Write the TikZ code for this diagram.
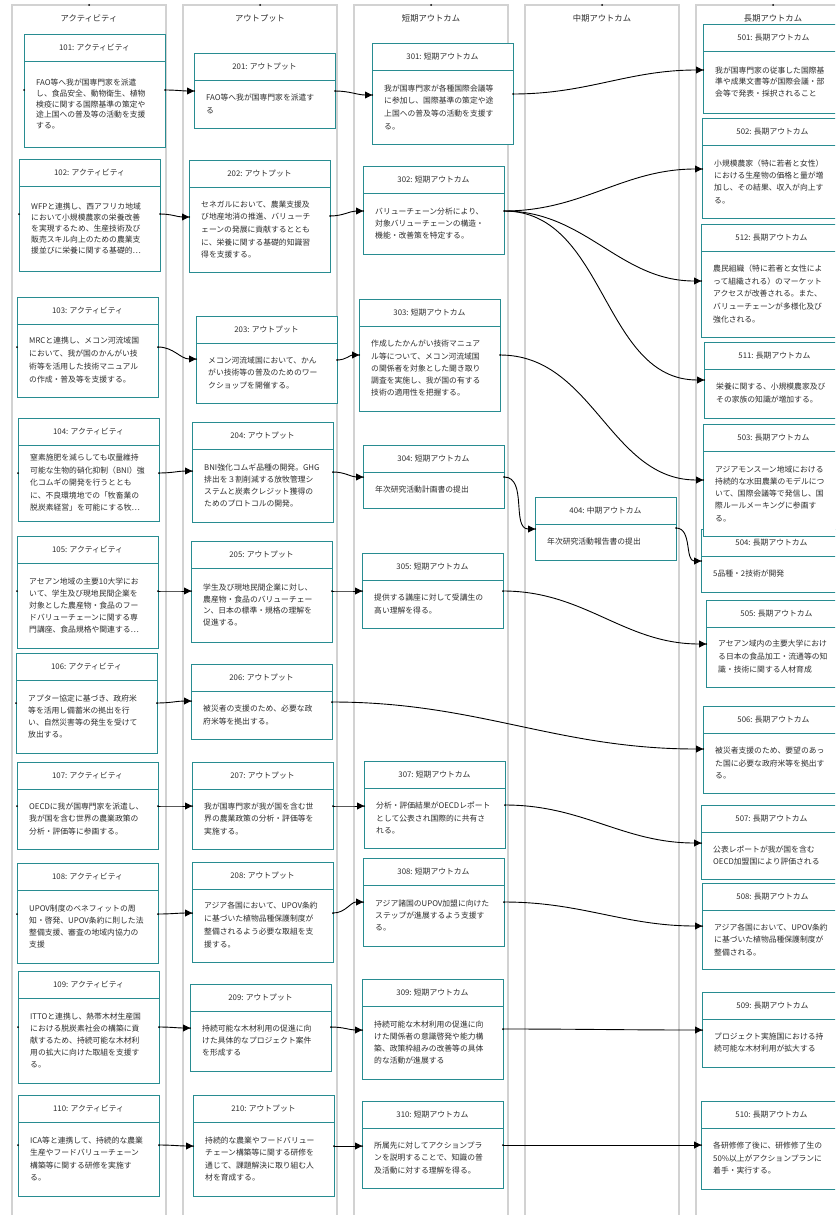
\documentclass[tikz,border=0pt]{standalone}
\usepackage{fontspec}
\setmainfont{Noto Sans CJK JP}
\usetikzlibrary{arrows.meta,calc}
\definecolor{boxc}{RGB}{40,140,145}
\definecolor{lanec}{RGB}{210,210,210}
\definecolor{txt}{RGB}{45,45,45}
\tikzset{
  lanebox/.style={draw=lanec, line width=1.5pt, fill=white, anchor=north west, minimum width=154pt, minimum height=1230pt, inner sep=0pt, outer sep=0pt},
  lanetitle/.style={font=\fontsize{8.3}{10}\selectfont, text=txt, inner sep=0pt},
  boxframe/.style={draw=boxc, line width=0.95pt, fill=white, anchor=north west, minimum width=141pt, inner sep=0pt, outer sep=0pt},
  boxline/.style={draw=boxc, line width=0.95pt},
  headtxt/.style={font=\fontsize{7.8}{9}\selectfont, text=txt, inner sep=0pt},
  bodytxt/.style={anchor=west, align=left, text=txt, inner sep=0pt},
  conn/.style={draw=black, line width=0.9pt, -{Triangle[length=7pt,width=7pt]}},
  portdot/.style={fill=black},
}
% id, left, top, bottom, header, line spacing, body
\newcommand{\lmbox}[7]{%
  \node[boxframe, minimum height={#4pt-#3pt}] (b#1) at (#2,#3) {};
  \draw[boxline] ([yshift=-27pt]b#1.north west) -- ([yshift=-27pt]b#1.north east);
  \node[headtxt] (h#1) at ([yshift=-13.5pt]b#1.north) {#5};
  \node[bodytxt, font=\fontsize{7.8}{#6}\selectfont] (t#1) at (#2+12, {(#3+27+#4)/2}) {#7};
}
% name, node, side, y
\newcommand{\lmport}[4]{%
  \coordinate (#1) at (#2.#3 |- 0,#4);
  \fill[portdot] (#1) circle (1pt);
}
\begin{document}
\begin{tikzpicture}[x=1pt,y=-1pt]
\useasboundingbox (0,0) rectangle (835,1215);
\clip (0,0) rectangle (835,1215);
\fill[white] (0,0) rectangle (835,1215);

% lanes
\node[lanebox] (lane1) at (12,5) {};
\node[lanebox] (lane2) at (183,5) {};
\node[lanebox] (lane3) at (354,5) {};
\node[lanebox] (lane4) at (525,5) {};
\node[lanebox] (lane5) at (696,5) {};
\node[lanetitle] (lt1) at ([yshift=-13pt]lane1.north) {アクティビティ};
\node[lanetitle] (lt2) at ([yshift=-13pt]lane2.north) {アウトプット};
\node[lanetitle] (lt3) at ([yshift=-13pt]lane3.north) {短期アウトカム};
\node[lanetitle] (lt4) at ([yshift=-13pt]lane4.north) {中期アウトカム};
\node[lanetitle] (lt5) at ([yshift=-13pt]lane5.north) {長期アウトカム};
\foreach \l in {lane1,lane2,lane3,lane4,lane5} \fill[portdot] (\l.north) circle (1pt);

% column 1
\lmbox{101}{24}{34}{147}{101: アクティビティ}{10.6}{FAO等へ我が国専門家を派遣\\し、食品安全、動物衛生、植物\\検疫に関する国際基準の策定や\\途上国への普及等の活動を支援\\する。}
\lmbox{102}{19}{159}{271}{102: アクティビティ}{11.1}{WFPと連携し、西アフリカ地域\\において小規模農家の栄養改善\\を実現するため、生産技術及び\\販売スキル向上のための農業支\\援並びに栄養に関する基礎的…}
\lmbox{103}{17}{297}{397}{103: アクティビティ}{13}{MRCと連携し、メコン河流域国\\において、我が国のかんがい技\\術等を活用した技術マニュアル\\の作成・普及等を支援する。}
\lmbox{104}{18}{418}{521}{104: アクティビティ}{12.5}{窒素施肥を減らしても収量維持\\可能な生物的硝化抑制（BNI）強\\化コムギの開発を行うととも\\に、不良環境地での「牧畜業の\\脱炭素経営」を可能にする牧…}
\lmbox{105}{17}{536}{648}{105: アクティビティ}{12}{アセアン地域の主要10大学にお\\いて、学生及び現地民間企業を\\対象とした農産物・食品のフー\\ドバリューチェーンに関する専\\門講座、食品規格や関連する…}
\lmbox{106}{16}{653}{753}{106: アクティビティ}{12.3}{アプター協定に基づき、政府米\\等を活用し備蓄米の拠出を行\\い、自然災害等の発生を受けて\\放出する。}
\lmbox{107}{17}{762}{849}{107: アクティビティ}{12.5}{OECDに我が国専門家を派遣し、\\我が国を含む世界の農業政策の\\分析・評価等に参画する。}
\lmbox{108}{17}{863}{963}{108: アクティビティ}{12.3}{UPOV制度のベネフィットの周\\知・啓発、UPOV条約に則した法\\整備支援、審査の地域内協力の\\支援}
\lmbox{109}{18}{971}{1083}{109: アクティビティ}{12}{ITTOと連携し、熱帯木材生産国\\における脱炭素社会の構築に貢\\献するため、持続可能な木材利\\用の拡大に向けた取組を支援す\\る。}
\lmbox{110}{18}{1095}{1196}{110: アクティビティ}{12.3}{ICA等と連携して、持続的な農業\\生産やフードバリューチェーン\\構築等に関する研修を実施す\\る。}

% column 2
\lmbox{201}{194}{53}{128}{201: アウトプット}{13}{FAO等へ我が国専門家を派遣す\\る}
\lmbox{202}{189}{160}{272}{202: アウトプット}{12.7}{セネガルにおいて、農業支援及\\び地産地消の推進、バリューチ\\ェーンの発展に貢献するととも\\に、栄養に関する基礎的知識習\\得を支援する。}
\lmbox{203}{196}{316}{403}{203: アウトプット}{12.5}{メコン河流域国において、かん\\がい技術等の普及のためのワー\\クショップを開催する。}
\lmbox{204}{192}{422}{522}{204: アウトプット}{12}{BNI強化コムギ品種の開発。GHG\\排出を３割削減する放牧管理シ\\ステムと炭素クレジット獲得の\\ためのプロトコルの開発。}
\lmbox{205}{191}{541}{642}{205: アウトプット}{11.5}{学生及び現地民間企業に対し、\\農産物・食品のバリューチェー\\ン、日本の標準・規格の理解を\\促進する。}
\lmbox{206}{191}{664}{739}{206: アウトプット}{13}{被災者の支援のため、必要な政\\府米等を拠出する。}
\lmbox{207}{192}{762}{849}{207: アウトプット}{12.5}{我が国専門家が我が国を含む世\\界の農業政策の分析・評価等を\\実施する。}
\lmbox{208}{192}{862}{962}{208: アウトプット}{13}{アジア各国において、UPOV条約\\に基づいた植物品種保護制度が\\整備されるよう必要な取組を支\\援する。}
\lmbox{209}{190}{984}{1071}{209: アウトプット}{12}{持続可能な木材利用の促進に向\\けた具体的なプロジェクト案件\\を形成する}
\lmbox{210}{193}{1095}{1196}{210: アウトプット}{12.3}{持続的な農業やフードバリュー\\チェーン構築等に関する研修を\\通じて、課題解決に取り組む人\\材を育成する。}

% column 3
\lmbox{301}{372}{43}{144}{301: 短期アウトカム}{12.7}{我が国専門家が各種国際会議等\\に参加し、国際基準の策定や途\\上国への普及等の活動を支援す\\る。}
\lmbox{302}{363}{166}{254}{302: 短期アウトカム}{12}{バリューチェーン分析により、\\対象バリューチェーンの構造・\\機能・改善策を特定する。}
\lmbox{303}{359}{299}{411}{303: 短期アウトカム}{12.25}{作成したかんがい技術マニュア\\ル等について、メコン河流域国\\の関係者を対象とした聞き取り\\調査を実施し、我が国の有する\\技術の適用性を把握する。}
\lmbox{304}{363}{445}{508}{304: 短期アウトカム}{12}{年次研究活動計画書の提出}
\lmbox{305}{362}{553}{628}{305: 短期アウトカム}{13}{提供する講座に対して受講生の\\高い理解を得る。}
\lmbox{307}{364}{761}{848}{307: 短期アウトカム}{12.5}{分析・評価結果がOECDレポート\\として公表され国際的に共有さ\\れる。}
\lmbox{308}{363}{858}{946}{308: 短期アウトカム}{12}{アジア諸国のUPOV加盟に向けた\\ステップが進展するよう支援す\\る。}
\lmbox{309}{362}{979}{1079}{309: 短期アウトカム}{12}{持続可能な木材利用の促進に向\\けた関係者の意識啓発や能力構\\築、政策枠組みの改善等の具体\\的な活動が進展する}
\lmbox{310}{362}{1101}{1188}{310: 短期アウトカム}{12.5}{所属先に対してアクションプラ\\ンを説明することで、知識の普\\及活動に対する理解を得る。}

% column 4
\lmbox{404}{535}{497}{560}{404: 中期アウトカム}{12}{年次研究活動報告書の提出}

% column 5
\lmbox{501}{703}{24}{113}{501: 長期アウトカム}{11.5}{我が国専門家の従事した国際基\\準や成果文書等が国際会議・部\\会等で発表・採択されること}
\lmbox{502}{702}{118}{218}{502: 長期アウトカム}{12.3}{小規模農家（特に若者と女性）\\における生産物の価格と量が増\\加し、その結果、収入が向上す\\る。}
\lmbox{512}{701}{224}{337}{512: 長期アウトカム}{12.7}{農民組織（特に若者と女性によ\\って組織される）のマーケット\\アクセスが改善される。また、\\バリューチェーンが多様化及び\\強化される。}
\lmbox{511}{704}{342}{418}{511: 長期アウトカム}{13}{栄養に関する、小規模農家及び\\その家族の知識が増加する。}
\lmbox{504}{701}{529}{592}{504: 長期アウトカム}{12}{5品種・2技術が開発}
\lmbox{503}{703}{424}{536}{503: 長期アウトカム}{12.25}{アジアモンスーン地域における\\持続的な水田農業のモデルにつ\\いて、国際会議等で発信し、国\\際ルールメーキングに参画す\\る。}
\lmbox{505}{706}{600}{687}{505: 長期アウトカム}{13}{アセアン域内の主要大学におけ\\る日本の食品加工・流通等の知\\識・技術に関する人材育成}
\lmbox{506}{703}{706}{793}{506: 長期アウトカム}{12.5}{被災者支援のため、要望のあっ\\た国に必要な政府米等を拠出す\\る。}
\lmbox{507}{701}{805}{879}{507: 長期アウトカム}{12}{公表レポートが我が国を含む\\OECD加盟国により評価される}
\lmbox{508}{702}{883}{969}{508: 長期アウトカム}{12.5}{アジア各国において、UPOV条約\\に基づいた植物品種保護制度が\\整備される。}
\lmbox{509}{702}{992}{1067}{509: 長期アウトカム}{12}{プロジェクト実施国における持\\続可能な木材利用が拡大する}
\lmbox{510}{701}{1101}{1189}{510: 長期アウトカム}{12.5}{各研修修了後に、研修修了生の\\50\%以上がアクションプランに\\着手・実行する。}

% ports
\lmport{l101}{b101}{west}{90}   \lmport{o101}{b101}{east}{90}
\lmport{l102}{b102}{west}{214}  \lmport{o102}{b102}{east}{214}
\lmport{l103}{b103}{west}{347}  \lmport{o103}{b103}{east}{347}
\lmport{l104}{b104}{west}{473}  \lmport{o104}{b104}{east}{473}
\lmport{l105}{b105}{west}{591}  \lmport{o105}{b105}{east}{591}
\lmport{l106}{b106}{west}{703}  \lmport{o106}{b106}{east}{703}
\lmport{l107}{b107}{west}{806}  \lmport{o107}{b107}{east}{806}
\lmport{l108}{b108}{west}{914}  \lmport{o108}{b108}{east}{914}
\lmport{l109}{b109}{west}{1027} \lmport{o109}{b109}{east}{1027}
\lmport{l110}{b110}{west}{1145} \lmport{o110}{b110}{east}{1145}

\lmport{i201}{b201}{west}{91}   \lmport{o201}{b201}{east}{91}
\lmport{i202}{b202}{west}{217}  \lmport{o202}{b202}{east}{216}
\lmport{i203}{b203}{west}{359}  \lmport{o203}{b203}{east}{360}
\lmport{i204}{b204}{west}{471}  \lmport{o204}{b204}{east}{472}
\lmport{i205}{b205}{west}{591}  \lmport{o205}{b205}{east}{591}
\lmport{i206}{b206}{west}{701}  \lmport{o206}{b206}{east}{702}
\lmport{i207}{b207}{west}{806}  \lmport{o207}{b207}{east}{806}
\lmport{i208}{b208}{west}{913}  \lmport{o208}{b208}{east}{913}
\lmport{i209}{b209}{west}{1028} \lmport{o209}{b209}{east}{1027}
\lmport{i210}{b210}{west}{1146} \lmport{o210}{b210}{east}{1146}

\lmport{i301}{b301}{west}{95}   \lmport{o301}{b301}{east}{94}
\lmport{i302}{b302}{west}{211}  \lmport{o302}{b302}{east}{211}
\lmport{i303}{b303}{west}{355}  \lmport{o303}{b303}{east}{355}
\lmport{i304}{b304}{west}{477}  \lmport{o304}{b304}{east}{477}
\lmport{i305}{b305}{west}{591}  \lmport{o305}{b305}{east}{591}
\lmport{i307}{b307}{west}{806}  \lmport{o307}{b307}{east}{805}
\lmport{i308}{b308}{west}{902}  \lmport{o308}{b308}{east}{902}
\lmport{i309}{b309}{west}{1030} \lmport{o309}{b309}{east}{1029}
\lmport{i310}{b310}{west}{1146} \lmport{o310}{b310}{east}{1145}

\lmport{i404}{b404}{west}{529}  \lmport{o404}{b404}{east}{528}

\lmport{i501}{b501}{west}{70}
\lmport{i502}{b502}{west}{169}
\lmport{i512}{b512}{west}{281}
\lmport{i511}{b511}{west}{380}
\lmport{i503}{b503}{west}{480}
\lmport{i504}{b504}{west}{561}
\lmport{i505}{b505}{west}{644}
\lmport{i506}{b506}{west}{749}
\lmport{i507}{b507}{west}{843}
\lmport{i508}{b508}{west}{926}
\lmport{i509}{b509}{west}{1030}
\lmport{i510}{b510}{west}{1145}

% connectors
\foreach \a/\b in {o101/i201,o102/i202,o103/i203,o104/i204,o105/i205,o106/i206,o107/i207,o108/i208,o109/i209,o110/i210,
  o201/i301,o202/i302,o203/i303,o204/i304,o205/i305,o207/i307,o208/i308,o209/i309,o210/i310,
  o301/i501,o302/i502,o302/i512,o302/i511,o303/i503,o304/i404,o404/i504,o305/i505,o206/i506,o307/i507,o308/i508,o309/i509,o310/i510}
  \draw[conn] (\a) to[out=0,in=180] (\b);
\end{tikzpicture}
\end{document}
